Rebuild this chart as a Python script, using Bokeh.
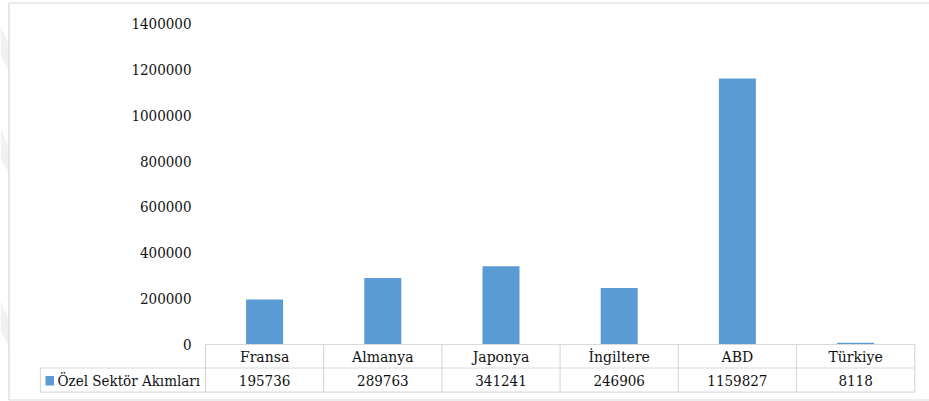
from bokeh.plotting import figure
from bokeh.models import Range1d
from bokeh.core.properties import value
from bokeh.embed import file_html
from bokeh.resources import INLINE

# Data
countries = ["Fransa", "Almanya", "Japonya", "İngiltere", "ABD", "Türkiye"]
flows = [195736, 289763, 341241, 246906, 1159827, 8118]
series_name = "Özel Sektör Akımları"
y_ticks = [0, 200000, 400000, 600000, 800000, 1000000, 1200000, 1400000]

# Page geometry (pixels)
W, H = 929, 401
COL0 = 205.0          # left edge of first table column
COL_W = 118.2         # width of one category column
ZERO_PX = 344.0       # pixel row of value 0
TOP_PX = 23.0         # pixel row of the top tick
Y_MAX = y_ticks[-1]
VPP = Y_MAX / (ZERO_PX - TOP_PX)

HEAD_TOP, ROW_MID, TABLE_BOTTOM = 344.0, 367.5, 391.7
LEGEND_LEFT = 40.0

BAR_COLOR = "#5B9BD5"
LINE_COLOR = "#d9d9d9"
TEXT_COLOR = "#111111"
FONT = value("DejaVu Serif Condensed")
FONT_SIZE = "15px"


def xd(px):
    return (px - COL0) / COL_W


def yd(py):
    return (ZERO_PX - py) * VPP


p = figure(width=W, height=H,
           x_range=Range1d(xd(0), xd(W)), y_range=Range1d(yd(H), yd(0)),
           x_axis_type=None, y_axis_type=None,
           output_backend="svg", toolbar_location=None, min_border=0)
p.grid.visible = False
p.outline_line_color = None
p.background_fill_color = "white"
p.border_fill_color = "white"

n = len(countries)
centers = [i + 0.5 for i in range(n)]

# Faint page marks left of the chart frame
band_tops = [25, 128, 300]
p.patches(xs=[[xd(0), xd(8), xd(8), xd(0)] for _ in band_tops],
          ys=[[yd(t), yd(t + 18), yd(t + 45), yd(t + 30)] for t in band_tops],
          fill_color="#f1f1f1", line_color=None)

# Outer chart border
p.quad(left=[xd(8.5)], right=[xd(940)], top=[yd(2.5)], bottom=[yd(399.5)],
       fill_color=None, line_color=LINE_COLOR, line_width=1.2)

# Bars
p.vbar(x=centers, top=flows, bottom=0, width=37 / COL_W,
       fill_color=BAR_COLOR, line_color=None)

# Value axis labels
p.text(x=[xd(191)] * len(y_ticks), y=y_ticks,
       text=[str(t) for t in y_ticks],
       text_align="right", text_baseline="middle",
       text_font=FONT, text_font_size=FONT_SIZE, text_color=TEXT_COLOR)

# Data table grid
col_edges = [COL0 + i * COL_W for i in range(n + 1)]
hx0 = [xd(COL0), xd(LEGEND_LEFT), xd(LEGEND_LEFT)]
hx1 = [xd(col_edges[-1])] * 3
hy = [yd(HEAD_TOP), yd(ROW_MID), yd(TABLE_BOTTOM)]
p.segment(x0=hx0, y0=hy, x1=hx1, y1=hy, line_color=LINE_COLOR, line_width=1.2)

vx = [xd(LEGEND_LEFT)] + [xd(e) for e in col_edges]
vy0 = [yd(ROW_MID)] + [yd(HEAD_TOP)] * len(col_edges)
vy1 = [yd(TABLE_BOTTOM)] * len(vx)
p.segment(x0=vx, y0=vy0, x1=vx, y1=vy1, line_color=LINE_COLOR, line_width=1.2)

# Category header row
p.text(x=centers, y=[yd((HEAD_TOP + ROW_MID) / 2 + 0.5)] * n, text=countries,
       text_align="center", text_baseline="middle",
       text_font=value("DejaVu Serif"), text_font_size="14px", text_color=TEXT_COLOR)

# Value row
p.text(x=centers, y=[yd((ROW_MID + TABLE_BOTTOM) / 2 + 0.5)] * n,
       text=[str(v) for v in flows],
       text_align="center", text_baseline="middle",
       text_font=FONT, text_font_size=FONT_SIZE, text_color=TEXT_COLOR)

# Legend key and series name in the table
p.quad(left=[xd(45)], right=[xd(53.5)], top=[yd(375.5)], bottom=[yd(385)],
       fill_color=BAR_COLOR, line_color=None)
p.text(x=[xd(57)], y=[yd((ROW_MID + TABLE_BOTTOM) / 2 + 0.5)], text=[series_name],
       text_align="left", text_baseline="middle",
       text_font=FONT, text_font_size=FONT_SIZE, text_color=TEXT_COLOR)

open("out.html", "w").write(file_html(p, INLINE))
